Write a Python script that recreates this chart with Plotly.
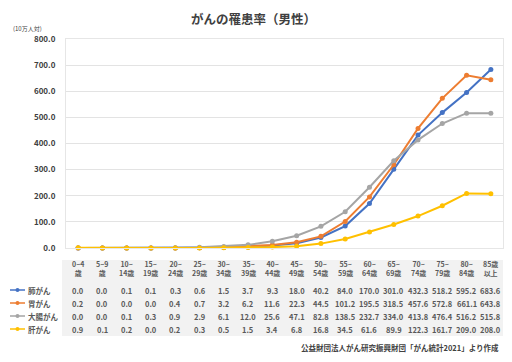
import plotly.graph_objects as go

categories = ["0~4<br>歳", "5~9<br>歳", "10~<br>14歳", "15~<br>19歳", "20~<br>24歳", "25~<br>29歳",
              "30~<br>34歳", "35~<br>39歳", "40~<br>44歳", "45~<br>49歳", "50~<br>54歳", "55~<br>59歳",
              "60~<br>64歳", "65~<br>69歳", "70~<br>74歳", "75~<br>79歳", "80~<br>84歳", "85歳<br>以上"]
series_names = ["肺がん", "胃がん", "大腸がん", "肝がん"]
lung = [0.0, 0.0, 0.1, 0.1, 0.3, 0.6, 1.5, 3.7, 9.3, 18.0, 40.2, 84.0, 170.0, 301.0, 432.3, 518.2, 595.2, 683.6]
stomach = [0.2, 0.0, 0.0, 0.0, 0.4, 0.7, 3.2, 6.2, 11.6, 22.3, 44.5, 101.2, 195.5, 318.5, 457.6, 572.8, 661.1, 643.8]
colon = [0.0, 0.0, 0.1, 0.3, 0.9, 2.9, 6.1, 12.0, 25.6, 47.1, 82.8, 138.5, 232.7, 334.0, 413.8, 476.4, 516.2, 515.8]
liver = [0.9, 0.1, 0.2, 0.0, 0.2, 0.3, 0.5, 1.5, 3.4, 6.8, 16.8, 34.5, 61.6, 89.9, 122.3, 161.7, 209.0, 208.0]
series_values = [lung, stomach, colon, liver]
colors = ["#4472C4", "#ED7D31", "#A5A5A5", "#FFC000"]
y_ticks = [0, 100, 200, 300, 400, 500, 600, 700, 800]

FONT = "Noto Sans CJK JP"
OFF = 8  # page body margin
W, H = 512 - OFF, 362 - OFF
# plot area in screen pixels: x 66..503, y 39..248
ML, MR, MT, MB = 66 - OFF, 512 - 503, 39 - OFF, 362 - 248
plot_h = H - MT - MB
plot_w = W - ML - MR


def py(p):
    # screen pixel y -> paper y
    return (H - MB - (p - OFF)) / plot_h


def px(p):
    return ((p - OFF) - ML) / plot_w


fig = go.Figure()
for name, vals, c in zip(series_names, series_values, colors):
    fig.add_trace(go.Scatter(
        x=list(range(len(categories))), y=vals, name=name, mode="lines+markers",
        line=dict(color=c, width=2), marker=dict(color=c, size=5),
        showlegend=False, cliponaxis=False, hoverinfo="skip"))

shapes = []
annotations = []
shapes.append(dict(type="rect", xref="paper", yref="paper", x0=px(62), x1=px(503),
                   y0=py(336), y1=py(260), fillcolor="#F2F2F2", line=dict(width=0), layer="below"))

for i, cat in enumerate(categories):
    annotations.append(dict(x=i, y=py(268.5), xref="x", yref="paper", text="<b>" + cat + "</b>",
                            showarrow=False, font=dict(family=FONT, size=7, color="#595959"),
                            xanchor="center", yanchor="middle"))

row_y = [290, 303, 316, 329]
for r, (name, vals, c) in enumerate(zip(series_names, series_values, colors)):
    yy = py(row_y[r])
    for i, v in enumerate(vals):
        annotations.append(dict(x=i, y=yy, xref="x", yref="paper", text=f"<b>{v:.1f}</b>",
                                showarrow=False, font=dict(family=FONT, size=7.5, color="#595959"),
                                xanchor="center", yanchor="middle"))
    shapes.append(dict(type="line", xref="paper", yref="paper", x0=px(10), x1=px(25), y0=yy, y1=yy,
                       line=dict(color=c, width=1.5)))
    shapes.append(dict(type="circle", xref="paper", yref="paper", x0=px(15.5), x1=px(19.5),
                       y0=py(row_y[r] + 2), y1=py(row_y[r] - 2), fillcolor=c, line=dict(width=0)))
    annotations.append(dict(x=px(26), y=yy, xref="paper", yref="paper", text="<b>" + name + "</b>",
                            showarrow=False, font=dict(family=FONT, size=7.5, color="#595959"),
                            xanchor="left", yanchor="middle"))

annotations.append(dict(x=px(253), y=py(OFF), xref="paper", yref="paper", text="<b>がんの罹患率（男性）</b>",
                        showarrow=False, font=dict(family=FONT, size=12.5, color="#404040"),
                        xanchor="center", yanchor="top", borderpad=0))
annotations.append(dict(x=px(11), y=py(29), xref="paper", yref="paper", text="(10万人対)",
                        showarrow=False, font=dict(family=FONT, size=6, color="#404040"),
                        xanchor="left", yanchor="middle"))
annotations.append(dict(x=px(501), y=py(347), xref="paper", yref="paper",
                        text="<b>公益財団法人がん研究振興財団「がん統計2021」より作成</b>",
                        showarrow=False, font=dict(family=FONT, size=7.5, color="#404040"),
                        xanchor="right", yanchor="middle"))

fig.update_layout(
    width=W, height=H, margin=dict(l=ML, r=MR, t=MT, b=MB),
    paper_bgcolor="white", plot_bgcolor="white",
    font=dict(family=FONT),
    xaxis=dict(range=[-0.5, len(categories) - 0.5], showticklabels=False, showgrid=False,
               zeroline=False, showline=True, linecolor="#E6E6E6", mirror=True, fixedrange=True),
    yaxis=dict(range=[0, 800], tickvals=y_ticks, ticktext=[f"<b>{t:.1f}</b>" for t in y_ticks],
               showgrid=True, gridcolor="#E3E3E3", gridwidth=1, zeroline=False,
               showline=True, linecolor="#E6E6E6", mirror=True,
               ticks="outside", ticklen=8, tickcolor="rgba(0,0,0,0)",
               tickfont=dict(family=FONT, size=8, color="#404040")),
    shapes=shapes, annotations=annotations,
)
fig.write_html("out.html")
